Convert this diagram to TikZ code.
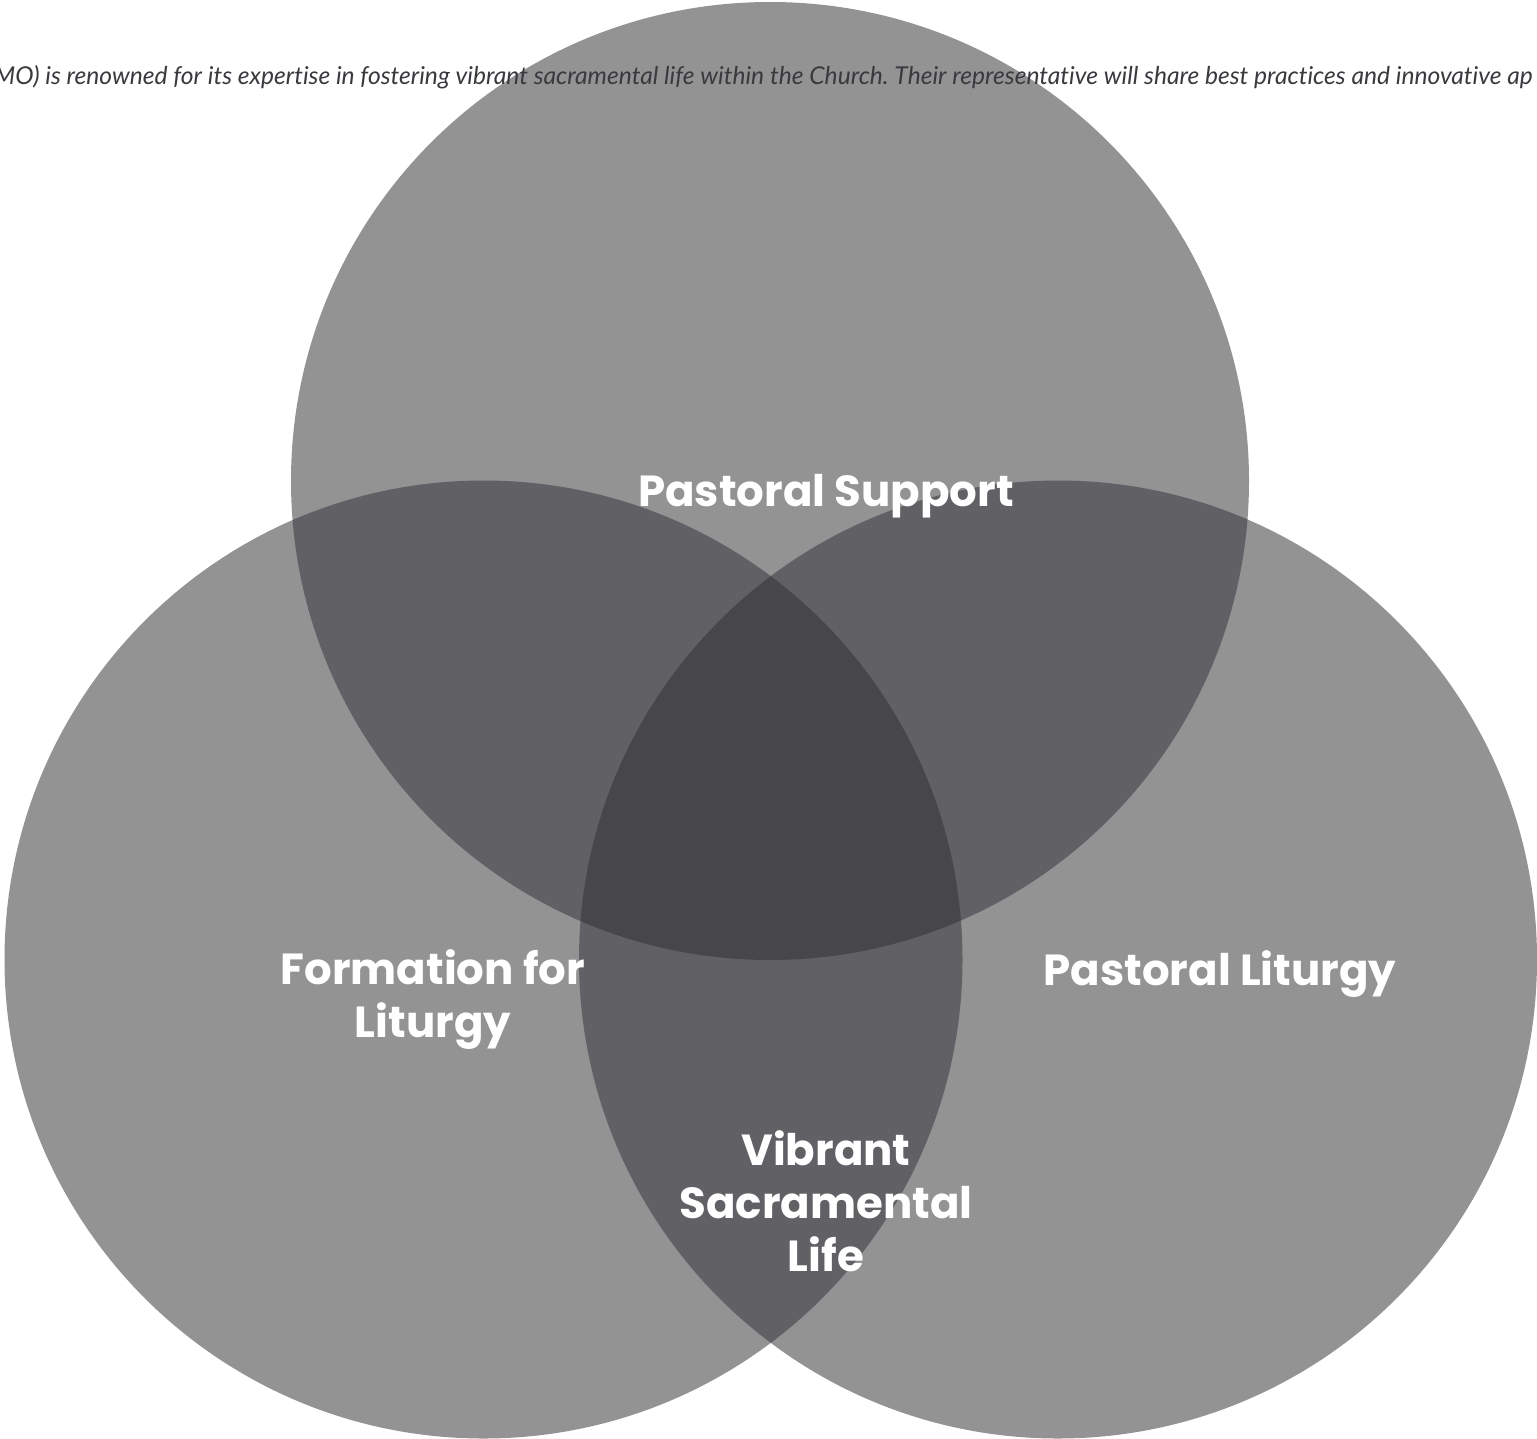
\documentclass[tikz,border=0pt]{standalone}
\usepackage{fontspec}
\newfontfamily\labfont{Poppins}[BoldFont={Poppins Bold}]
\newfontfamily\topfont{Lato}[Ligatures=NoCommon]
\definecolor{cone}{HTML}{939394}
\definecolor{ctwo}{HTML}{616065}
\definecolor{cthree}{HTML}{47464B}
\definecolor{ctext}{HTML}{3A393E}
\frenchspacing
\begin{document}
\begin{tikzpicture}[x=1pt,y=-1pt,
  lab/.style={text=white,font=\labfont\bfseries\fontsize{43.5}{53}\selectfont,align=center,inner sep=0pt},
  circ/.style={circle,minimum size=958pt,inner sep=0pt,draw=none}]
\useasboundingbox (0,0) rectangle (1537,1438);
\fill[white] (0,0) rectangle (1537,1438);
\node[circ] (top) at (770,481) {};
\node[circ] (left) at (483.5,959.5) {};
\node[circ] (right) at (1058,959.5) {};
\fill[cone] (top.center) circle (479);
\fill[cone] (left.center) circle (479);
\fill[cone] (right.center) circle (479);
\begin{scope}
\clip (top.center) circle (479);
\fill[ctwo] (left.center) circle (479);
\fill[ctwo] (right.center) circle (479);
\end{scope}
\begin{scope}
\clip (left.center) circle (479);
\fill[ctwo] (right.center) circle (479);
\end{scope}
\begin{scope}
\clip (top.center) circle (479);
\clip (left.center) circle (479);
\fill[cthree] (right.center) circle (479);
\end{scope}
\node[anchor=base west,inner sep=0pt,text=ctext,font=\topfont\itshape\fontsize{24.6}{30}\selectfont] (intro) at (-6,84) {MO) is renowned for its expertise in fostering vibrant sacramental life within the Church. Their representative will share best practices and innovative ap};
\node[lab] (ps) at (826,496) {Pastoral Support};
\node[lab] (fl) at (433,1000) {Formation for\\Liturgy};
\node[lab] (pl) at (1220,974) {Pastoral Liturgy};
\node[lab] (vs) at (826,1201) {Vibrant\\Sacramental\\Life};
\end{tikzpicture}
\end{document}
